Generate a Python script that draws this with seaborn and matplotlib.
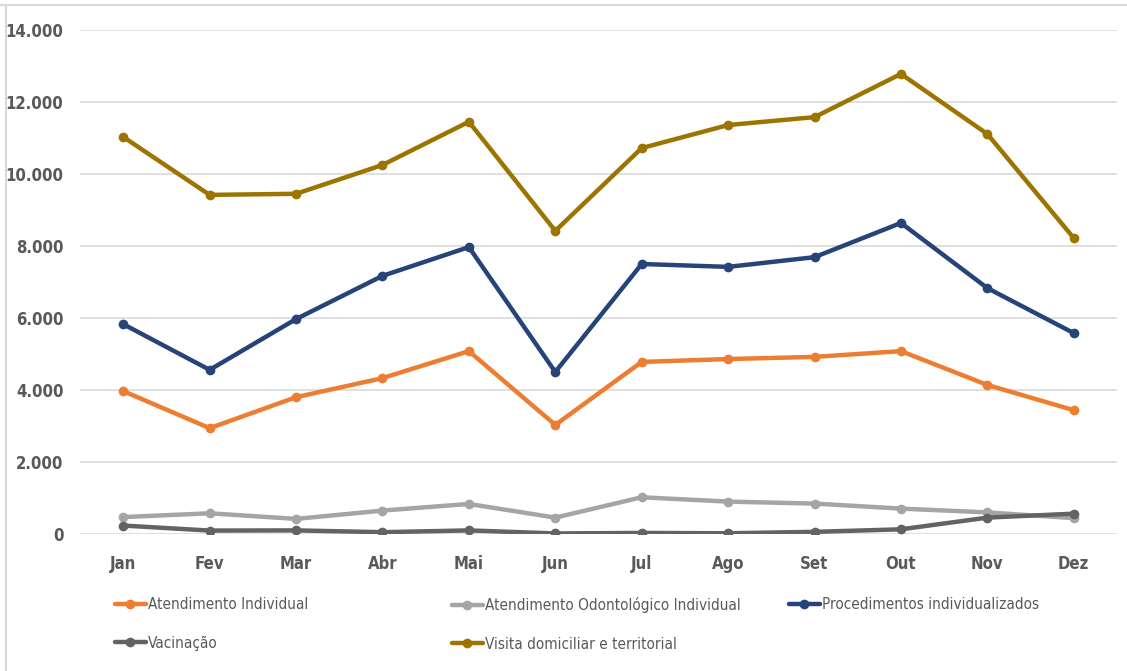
import matplotlib
matplotlib.use("Agg")
import matplotlib.pyplot as plt
from matplotlib.lines import Line2D
from matplotlib.ticker import FuncFormatter
import seaborn as sns
import pandas as pd

months = ["Jan", "Fev", "Mar", "Abr", "Mai", "Jun", "Jul", "Ago", "Set", "Out", "Nov", "Dez"]

atendimento_individual = [3970, 2940, 3800, 4330, 5080, 3030, 4780, 4860, 4920, 5080, 4140, 3440]
atendimento_odontologico = [470, 575, 420, 650, 835, 455, 1020, 900, 845, 705, 600, 440]
procedimentos = [5830, 4560, 5970, 7170, 7970, 4500, 7500, 7420, 7690, 8640, 6830, 5580]
vacinacao = [235, 95, 100, 50, 100, 15, 30, 20, 60, 130, 455, 565]
visita = [11030, 9420, 9450, 10250, 11450, 8420, 10720, 11360, 11580, 12780, 11110, 8220]

series_names = [
    "Atendimento Individual",
    "Atendimento Odontológico Individual",
    "Procedimentos individualizados",
    "Vacinação",
    "Visita domiciliar e territorial",
]
series_values = [atendimento_individual, atendimento_odontologico, procedimentos, vacinacao, visita]
series_colors = ["#ED7D31", "#A5A5A5", "#264478", "#636363", "#9C7400"]

y_ticks = [0, 2000, 4000, 6000, 8000, 10000, 12000, 14000]

df = pd.DataFrame(
    [(m, v, name) for name, vals in zip(series_names, series_values) for m, v in zip(months, vals)],
    columns=["mes", "valor", "serie"],
)

sns.set_theme(style="white")
plt.rcParams["font.family"] = ["DejaVu Sans"]
plt.rcParams["font.stretch"] = "condensed"

W, H = 1127, 671
fig = plt.figure(figsize=(W / 100, H / 100), dpi=100)
ax = fig.add_axes([80 / W, 1 - 534 / H, (1117 - 80) / W, (534 - 30) / H])

sns.lineplot(
    data=df, x="mes", y="valor", hue="serie", hue_order=series_names,
    palette=dict(zip(series_names, series_colors)), marker="o", markersize=7,
    markeredgewidth=0, linewidth=3.2, sort=False, ax=ax, zorder=3,
)

ax.get_legend().remove()

ax.set_xlim(-0.5, len(months) - 0.5)
ax.set_ylim(0, 14000)
ax.set_yticks(y_ticks)
ax.yaxis.set_major_formatter(FuncFormatter(lambda v, p: f"{int(v):,}".replace(",", ".")))
ax.set_xlabel("")
ax.set_ylabel("")
ax.grid(axis="y", color="#D9D9D9", linewidth=1.2, zorder=0)
ax.grid(axis="x", visible=False)
for s in ax.spines.values():
    s.set_visible(False)
ax.tick_params(axis="both", length=0, colors="#595959", labelsize=12)
ax.tick_params(axis="y", pad=12)
ax.tick_params(axis="x", pad=15)
for t in ax.get_xticklabels() + ax.get_yticklabels():
    t.set_fontweight("bold")

# legend: three equal-width columns, entries ordered row by row
col_x = [115, 452, 789]
columns = [[0, 3], [1, 4], [2]]
for cx, idx in zip(col_x, columns):
    hs = [Line2D([], [], color=series_colors[i], linewidth=3.2, marker="o", markersize=7,
                 markeredgewidth=0) for i in idx]
    leg = fig.legend(
        hs, [series_names[i] for i in idx], loc="upper left",
        bbox_to_anchor=(cx / W, 1 - 597 / H), frameon=False, fontsize=11,
        handlelength=2.0, handletextpad=0.15, labelspacing=1.55, borderaxespad=0,
        borderpad=0,
    )
    for t in leg.get_texts():
        t.set_color("#595959")

# chart frame edges
fig.add_artist(Line2D([0, 1], [1 - 5 / H, 1 - 5 / H], transform=fig.transFigure, color="#D9D9D9", linewidth=1.5))
fig.add_artist(Line2D([6 / W, 6 / W], [0, 1 - 5 / H], transform=fig.transFigure, color="#D9D9D9", linewidth=1.5))

fig.savefig("out.png", dpi=100, facecolor="white")
